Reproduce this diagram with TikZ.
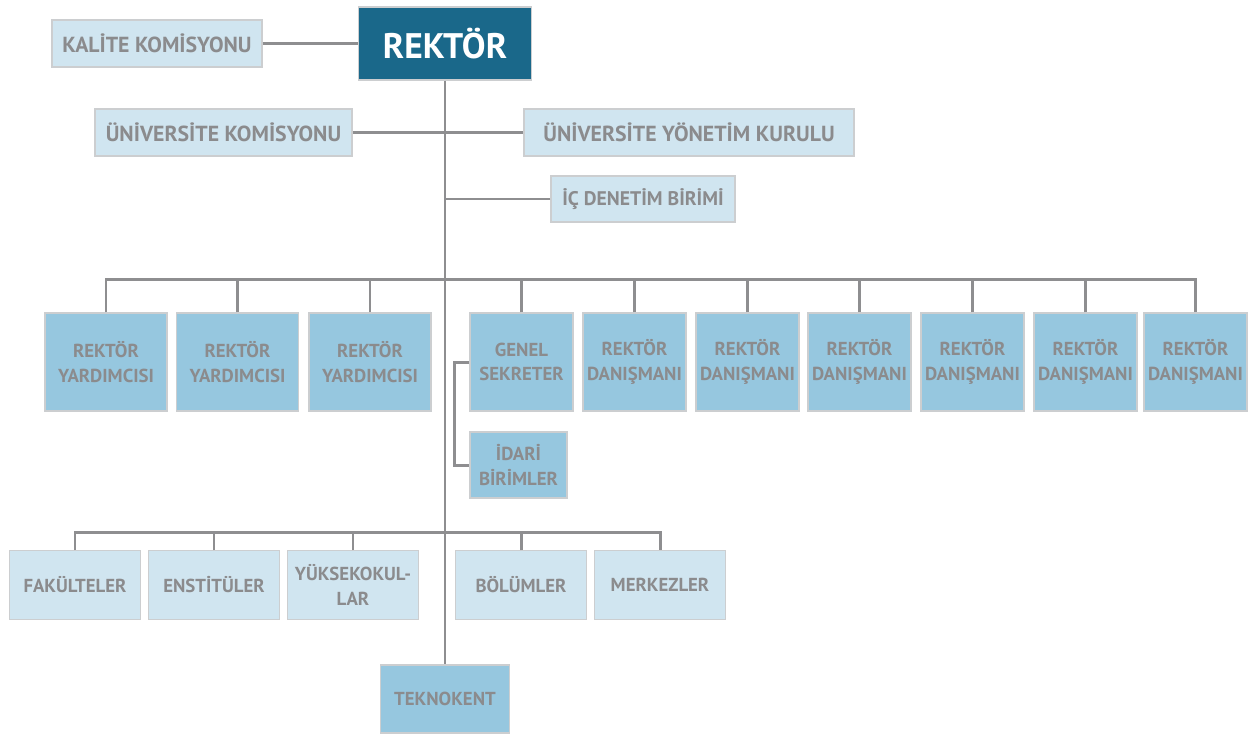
\documentclass[tikz,border=0pt]{standalone}
\usepackage{fontspec}
\setmainfont{PT Sans}
\usetikzlibrary{calc}

\definecolor{rektorblue}{RGB}{26,104,138}
\definecolor{midblue}{RGB}{150,199,223}
\definecolor{lightblue}{RGB}{208,229,240}
\definecolor{edgegray}{RGB}{204,206,208}
\definecolor{textgray}{RGB}{139,139,141}
\definecolor{linegray}{RGB}{142,142,144}

\begin{document}
\begin{tikzpicture}[
    box/.style={draw=edgegray, line width=0.7pt, inner sep=1pt, align=center,
      text=textgray, font=\bfseries\fontsize{10.7}{14}\selectfont},
    topbox/.style={box, fill=lightblue, minimum height=0.94cm,
      font=\bfseries\fontsize{12.4}{14}\selectfont},
    headbox/.style={box, fill=midblue, minimum height=1.96cm},
    unitbox/.style={box, fill=lightblue, minimum width=2.62cm, minimum height=1.37cm},
    wire/.style={draw=linegray, line width=1.7pt}]
  \useasboundingbox (0,0) rectangle (25,-14.66);

  % top
  \node[box, fill=rektorblue, text=white, minimum width=3.46cm, minimum height=1.46cm,
    font=\bfseries\fontsize{20.2}{22}\selectfont] (rektor) at (8.9,-0.87) {REKTÖR};
  \node[topbox, minimum width=4.2cm] (kalite) at (3.14,-0.87) {KALİTE KOMİSYONU};
  \node[topbox, minimum width=5.14cm] (unikom) at (4.47,-2.65) {ÜNİVERSİTE KOMİSYONU};
  \node[topbox, minimum width=6.6cm] (uyk) at (13.78,-2.65) {ÜNİVERSİTE YÖNETİM KURULU};
  \node[topbox, minimum width=3.68cm, minimum height=0.92cm,
    font=\bfseries\fontsize{11.2}{14}\selectfont] (icd) at (12.86,-3.98) {İÇ DENETİM BİRİMİ};

  % rektor yardimcilari, genel sekreter, danismanlar
  \foreach \x [count=\i] in {2.12,4.75,7.4}
    \node[headbox, minimum width=2.44cm] (ry\i) at (\x,-7.24) {REKTÖR\\YARDIMCISI};
  \node[headbox, minimum width=2.06cm] (gs) at (10.43,-7.24) {GENEL\\SEKRETER};
  \foreach \x [count=\i] in {12.69,14.95,17.19,19.45,21.71,23.91}
    \node[headbox, minimum width=2.06cm] (rd\i) at (\x,-7.24) {REKTÖR\\DANIŞMANI};
  \node[box, fill=midblue, minimum width=1.94cm, minimum height=1.32cm] (idari) at (10.37,-9.3) {İDARİ\\BİRİMLER};

  % akademik birimler
  \node[unitbox] (fak) at (1.5,-11.7) {FAKÜLTELER};
  \node[unitbox] (ens) at (4.28,-11.7) {ENSTİTÜLER};
  \node[unitbox] (yuk) at (7.06,-11.7) {YÜKSEKOKUL-\\LAR};
  \node[unitbox] (bol) at (10.42,-11.7) {BÖLÜMLER};
  \node[unitbox] (mer) at (13.2,-11.7) {MERKEZLER};
  \node[box, fill=midblue, minimum width=2.58cm, minimum height=1.36cm] (tekno) at (8.9,-13.98) {TEKNOKENT};

  % connectors
  \draw[wire] (rektor.south) -- (tekno.north);
  \draw[wire] (kalite) -- (rektor);
  \draw[wire] (unikom) -- (uyk);
  \draw[wire] (icd.west) -- (icd.west -| rektor.south);
  \draw[wire] (ry1.north) -- ++(0,0.66) -| (rd6.north);
  \foreach \n in {ry2,ry3,gs,rd1,rd2,rd3,rd4,rd5}
    \draw[wire] (\n.north) -- ++(0,0.66);
  \draw[wire] (gs.west) -- ++(-0.29,0) |- (idari.west);
  \draw[wire] (fak.north) -- ++(0,0.35) -| (mer.north);
  \foreach \n in {ens,yuk,bol}
    \draw[wire] (\n.north) -- ++(0,0.35);
\end{tikzpicture}
\end{document}
